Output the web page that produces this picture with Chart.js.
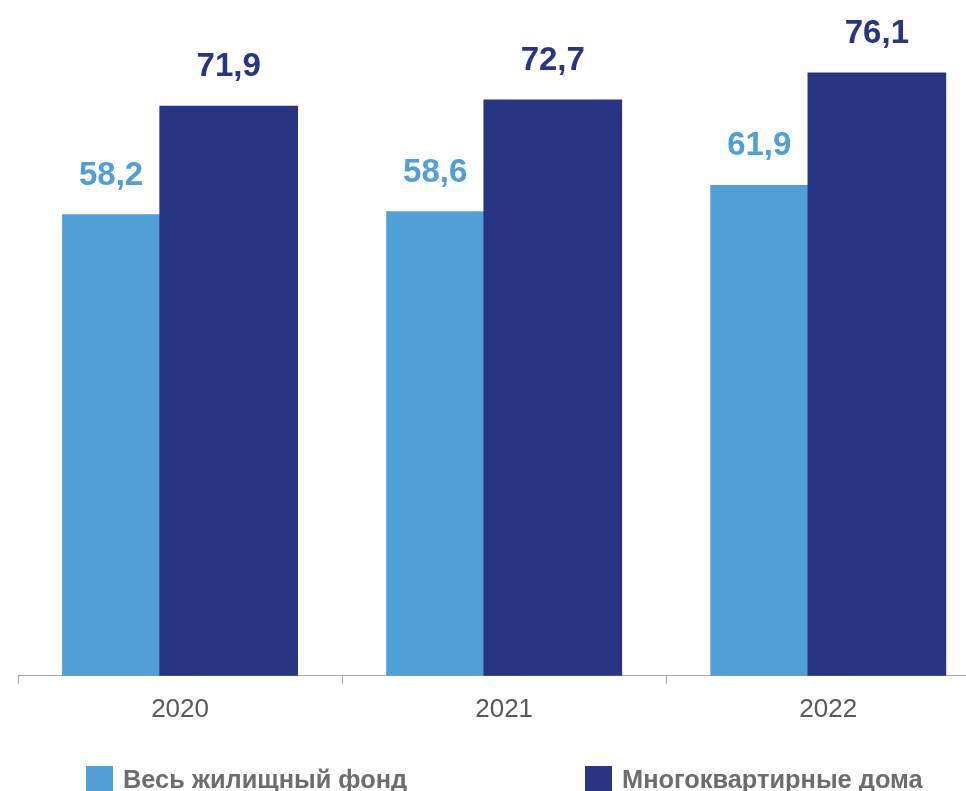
<!DOCTYPE html>
<html>
<head>
<meta charset="utf-8">
<script src="https://cdn.jsdelivr.net/npm/chart.js@4"></script>
<style>
  html, body { margin: 0; padding: 0; background: #fff; overflow: hidden; }
  #wrap { position: relative; width: 966px; height: 791px; }
  .legend { position: absolute; top: 766px; font: bold 25.4px "Liberation Sans", Arial, sans-serif; color: #6d6d6d; white-space: nowrap; }
  .legend .box { position: absolute; left: 0; top: 0; width: 27px; height: 27px; }
  .legend .txt { position: absolute; left: 37px; top: -2px; line-height: 30px; }
</style>
</head>
<body>
<div id="wrap">
  <canvas id="chart" width="966" height="791"></canvas>
  <div class="legend" style="left:86px"><div class="box" style="background:#519fd7"></div><div class="txt" id="leg0"></div></div>
  <div class="legend" style="left:585px"><div class="box" style="background:#283583"></div><div class="txt" id="leg1"></div></div>
</div>
<script>
const years = ["2020", "2021", "2022"];
const seriesNames = ["Весь жилищный фонд", "Многоквартирные дома"];
const allHousing = [58.2, 58.6, 61.9];
const apartmentBlocks = [71.9, 72.7, 76.1];
const colors = ["#519fd7", "#283583"];

// bars overlap inside each year: light one left, dark one right
const shift = 0.15;

document.getElementById("leg0").innerText = seriesNames[0];
document.getElementById("leg1").innerText = seriesNames[1];

function points(values, dx) {
  return values.map((v, i) => ({ x: i + 0.5 + dx, y: v }));
}

const fmt = v => v.toFixed(1).replace(".", ",");

const valueLabels = {
  id: "valueLabels",
  afterDatasetsDraw(chart) {
    const ctx = chart.ctx;
    const light = chart.getDatasetMeta(0).data;
    const dark = chart.getDatasetMeta(1).data;
    ctx.save();
    ctx.font = "bold 33px 'Liberation Sans', Arial, sans-serif";
    ctx.textAlign = "center";
    ctx.textBaseline = "alphabetic";
    light.forEach((el, i) => {
      const left = el.x - el.width / 2;
      const visibleEnd = dark[i].x - dark[i].width / 2;
      ctx.fillStyle = colors[0];
      ctx.fillText(fmt(allHousing[i]), (left + visibleEnd) / 2, el.y - 30);
    });
    dark.forEach((el, i) => {
      ctx.fillStyle = colors[1];
      ctx.fillText(fmt(apartmentBlocks[i]), el.x, el.y - 30);
    });
    ctx.restore();
  }
};

new Chart(document.getElementById("chart"), {
  type: "bar",
  data: {
    datasets: [
      { label: seriesNames[0], data: points(allHousing, -shift), backgroundColor: colors[0], order: 1 },
      { label: seriesNames[1], data: points(apartmentBlocks, shift), backgroundColor: colors[1], order: 0 }
    ]
  },
  options: {
    responsive: false,
    animation: false,
    grouped: false,
    barThickness: 138,
    layout: { padding: { left: 18, right: 0, top: 0, bottom: 56 } },
    plugins: { legend: { display: false }, tooltip: { enabled: false } },
    scales: {
      x: {
        type: "linear",
        offset: false,
        min: 0,
        max: 2.925,
        afterBuildTicks: scale => {
          scale.ticks = [0, 0.5, 1, 1.5, 2, 2.5].map(v => ({ value: v }));
        },
        border: { display: true, color: "#a6a6a6", width: 1 },
        grid: {
          offset: false,
          drawOnChartArea: false,
          drawTicks: true,
          tickLength: 8,
          tickColor: c => (c.tick && c.tick.value % 1 === 0) ? "#a6a6a6" : "rgba(0,0,0,0)"
        },
        ticks: {
          autoSkip: false,
          maxRotation: 0,
          padding: 10,
          color: "#595959",
          font: { family: "'Liberation Sans', Arial, sans-serif", size: 26 },
          callback: v => (v % 1 === 0.5) ? years[Math.floor(v)] : ""
        }
      },
      y: { display: false, min: 0, max: 85.3 }
    }
  },
  plugins: [valueLabels]
});
</script>
</body>
</html>
